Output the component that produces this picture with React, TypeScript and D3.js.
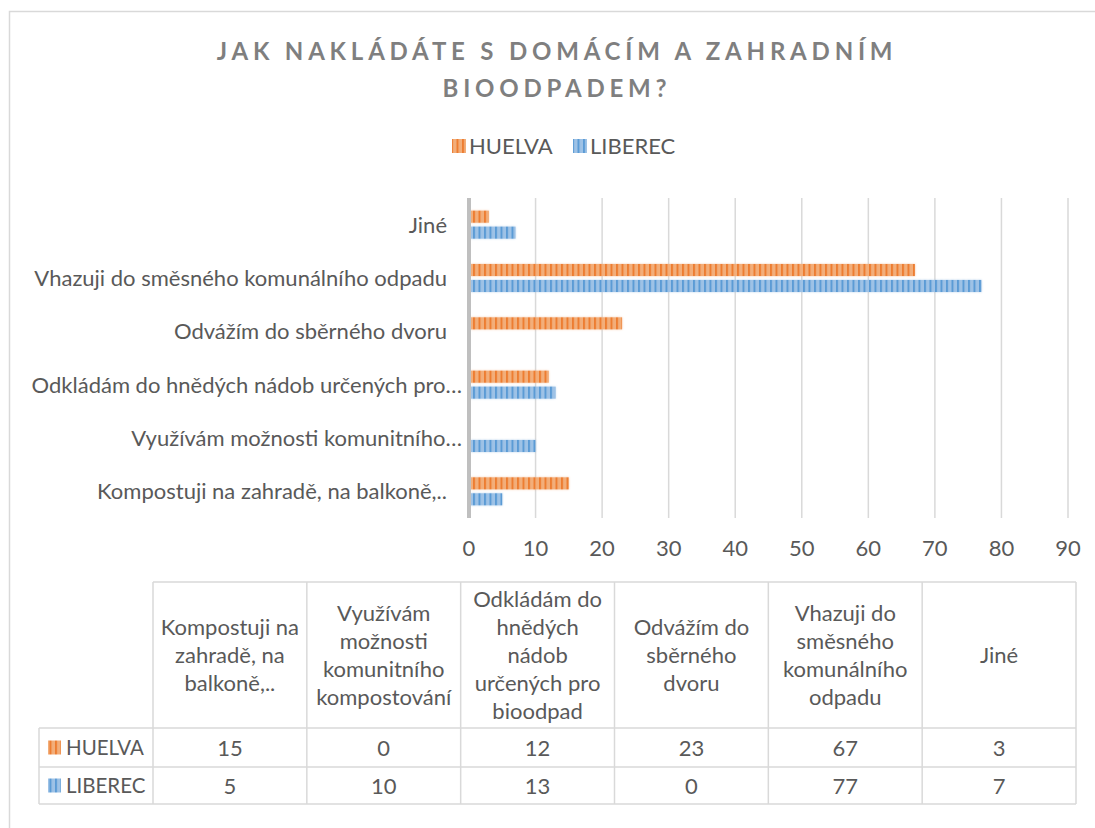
import React from "react";
import * as d3 from "d3";

const categories = [
  "Kompostuji na zahradě, na balkoně,..",
  "Využívám možnosti komunitního kompostování",
  "Odkládám do hnědých nádob určených pro bioodpad",
  "Odvážím do sběrného dvoru",
  "Vhazuji do směsného komunálního odpadu",
  "Jiné",
];
const axisLabels = [
  "Kompostuji na zahradě, na balkoně,..",
  "Využívám možnosti komunitního…",
  "Odkládám do hnědých nádob určených pro…",
  "Odvážím do sběrného dvoru",
  "Vhazuji do směsného komunálního odpadu",
  "Jiné",
];
const tableHeaders = [
  ["Kompostuji na", "zahradě, na", "balkoně,.."],
  ["Využívám", "možnosti", "komunitního", "kompostování"],
  ["Odkládám do", "hnědých", "nádob", "určených pro", "bioodpad"],
  ["Odvážím do", "sběrného", "dvoru"],
  ["Vhazuji do", "směsného", "komunálního", "odpadu"],
  ["Jiné"],
];
const huelva = [15, 0, 12, 23, 67, 3];
const liberec = [5, 10, 13, 0, 77, 7];
const xTicks = [0, 10, 20, 30, 40, 50, 60, 70, 80, 90];
const seriesNames = ["HUELVA", "LIBEREC"];

const FONT = "Lato, 'Open Sans', sans-serif";
const TXT = "#595959";
const GRID = "#d9d9d9";
const FS = 22;

export default function App() {
  const x = d3.scaleLinear().domain([0, 90]).range([469, 1068]);
  const y = d3
    .scaleBand<string>()
    .domain([...categories].reverse())
    .range([198, 518])
    .paddingInner(0.475)
    .paddingOuter(0.2375);
  const bw = y.bandwidth();
  const barH = bw * 0.43;

  const colLeft = 153;
  const colRight = 1076;
  const colX = d3.scaleBand<string>().domain(categories).range([colLeft, colRight]);
  const tTop = 582;
  const tHeadBot = 728;
  const tRow1Bot = 767;
  const tBot = 804;
  const tLeft = 39;

  const series = [
    { name: seriesNames[0], values: huelva, pat: "url(#patO)", off: 0 },
    { name: seriesNames[1], values: liberec, pat: "url(#patB)", off: bw - barH },
  ];

  return (
    <svg
      width={1095}
      height={828}
      style={{ position: "absolute", left: 0, top: 0, display: "block", background: "#fff" }}
      fontFamily={FONT}
    >
      <defs>
        <pattern id="patO" patternUnits="userSpaceOnUse" width={5.5} height={10}>
          <rect width={5.5} height={10} fill="#F2AE7A" />
          <rect x={0} width={2} height={10} fill="#ED7D31" />
        </pattern>
        <pattern id="patB" patternUnits="userSpaceOnUse" width={5.5} height={10}>
          <rect width={5.5} height={10} fill="#9EC2E6" />
          <rect x={0} width={2} height={10} fill="#5B9BD5" />
        </pattern>
        <filter id="glow" x="-5%" y="-40%" width="110%" height="180%">
          <feGaussianBlur stdDeviation="1" />
        </filter>
      </defs>

      <rect x={9.5} y={11.5} width={1100} height={830} fill="#fff" stroke="#d9d9d9" strokeWidth={1.5} />

      {/* Title */}
      <text x={557} y={60} textAnchor="middle" fontSize={24} fontWeight="bold" fill="#7f7f7f" letterSpacing={4.8}>
        JAK NAKLÁDÁTE S DOMÁCÍM A ZAHRADNÍM
      </text>
      <text x={557} y={97} textAnchor="middle" fontSize={24} fontWeight="bold" fill="#7f7f7f" letterSpacing={4.8}>
        BIOODPADEM?
      </text>

      {/* Legend */}
      {[
        { n: seriesNames[0], p: "url(#patO)", x: 452 },
        { n: seriesNames[1], p: "url(#patB)", x: 573 },
      ].map((l) => (
        <g key={l.n}>
          <rect x={l.x} y={139} width={14} height={14} fill={l.p} />
          <text x={l.x + 17} y={154} fontSize={FS} fill={TXT}>
            {l.n}
          </text>
        </g>
      ))}

      {/* Gridlines */}
      {xTicks.slice(1).map((t) => (
        <line key={t} x1={x(t)} x2={x(t)} y1={198} y2={518} stroke={GRID} strokeWidth={1.5} />
      ))}

      {/* Bars */}
      {series.map((s) =>
        categories.map((c, i) =>
          s.values[i] > 0 ? (
            <g key={s.name + c}>
              <rect
                x={x(0)}
                y={(y(c) as number) + s.off}
                width={x(s.values[i]) - x(0)}
                height={barH}
                fill={s.pat}
                opacity={0.5}
                filter="url(#glow)"
              />
              <rect
                x={x(0)}
                y={(y(c) as number) + s.off}
                width={x(s.values[i]) - x(0)}
                height={barH}
                fill={s.pat}
              />
            </g>
          ) : null
        )
      )}

      {/* Axis line */}
      <line x1={x(0)} x2={x(0)} y1={198} y2={518} stroke="#bfbfbf" strokeWidth={4} />

      {/* Category labels */}
      {categories.map((c, i) => (
        <text
          key={c}
          x={axisLabels[i].endsWith("…") ? 462 : 447}
          y={(y(c) as number) + bw / 2 + 8}
          textAnchor="end"
          fontSize={FS}
          fill={TXT}
        >
          {axisLabels[i]}
        </text>
      ))}

      {/* X tick labels */}
      {xTicks.map((t) => (
        <text key={t} x={x(t)} y={556} textAnchor="middle" fontSize={FS} fill={TXT}>
          {t}
        </text>
      ))}

      {/* Data table */}
      <g stroke="#d9d9d9" strokeWidth={1.5} fill="none">
        <line x1={colLeft} x2={colRight} y1={tTop} y2={tTop} />
        <line x1={tLeft} x2={colRight} y1={tHeadBot} y2={tHeadBot} />
        <line x1={tLeft} x2={colRight} y1={tRow1Bot} y2={tRow1Bot} />
        <line x1={tLeft} x2={colRight} y1={tBot} y2={tBot} />
        <line x1={tLeft} x2={tLeft} y1={tHeadBot} y2={tBot} />
        {categories.map((c) => (
          <line key={c} x1={colX(c)} x2={colX(c)} y1={tTop} y2={tBot} />
        ))}
        <line x1={colRight} x2={colRight} y1={tTop} y2={tBot} />
      </g>

      {categories.map((c, i) => {
        const lines = tableHeaders[i];
        const cx = (colX(c) as number) + colX.bandwidth() / 2;
        const lh = 28;
        const mid = (tTop + tHeadBot) / 2;
        const y0 = mid - ((lines.length - 1) * lh) / 2 + 8;
        return (
          <g key={c}>
            {lines.map((ln, j) => (
              <text key={j} x={cx} y={y0 + j * lh} textAnchor="middle" fontSize={FS} fill={TXT}>
                {ln}
              </text>
            ))}
            <text x={cx} y={(tHeadBot + tRow1Bot) / 2 + 8} textAnchor="middle" fontSize={FS} fill={TXT}>
              {huelva[i]}
            </text>
            <text x={cx} y={(tRow1Bot + tBot) / 2 + 8} textAnchor="middle" fontSize={FS} fill={TXT}>
              {liberec[i]}
            </text>
          </g>
        );
      })}

      {series.map((s, k) => {
        const top = k === 0 ? tHeadBot : tRow1Bot;
        const bot = k === 0 ? tRow1Bot : tBot;
        const cy = (top + bot) / 2;
        return (
          <g key={s.name}>
            <rect x={48} y={cy - 7} width={13} height={14} fill={s.pat} />
            <text x={66} y={cy + 7.5} fontSize={20.5} fill={TXT}>
              {s.name}
            </text>
          </g>
        );
      })}
    </svg>
  );
}
